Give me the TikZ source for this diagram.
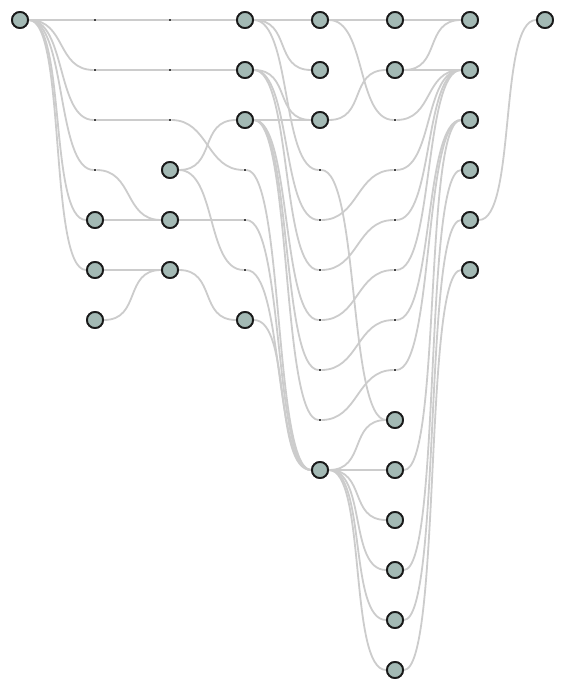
\documentclass[tikz,border=0pt]{standalone}
\definecolor{vfill}{HTML}{A3B9B4}
\definecolor{vline}{HTML}{1A1A1A}
\definecolor{lgray}{HTML}{CCCCCC}
\definecolor{dgray}{HTML}{444444}
\tikzset{
  vtx/.style={circle, draw=vline, line width=1.8pt, fill=vfill, minimum size=16pt, inner sep=0pt},
  dum/.style={rectangle, fill=dgray, minimum size=2.2pt, inner sep=0pt},
  lnk/.style={draw=lgray, line width=1.8pt},
}
\newcommand\lk[2]{\draw[lnk] (#1.east) .. controls +(37.5,0) and +(-37.5,0) .. (#2.west);}
\begin{document}
\begin{tikzpicture}[x=1pt,y=-1pt]
\fill[white] (0,0) rectangle (565,690);
\useasboundingbox (0,0) rectangle (565,690);
% dummy points
\foreach \c/\r in {1/0,1/1,1/2,1/3,2/0,2/1,2/2,3/3,3/4,3/5,4/3,4/4,4/5,4/6,4/7,4/8,5/2,5/3,5/4,5/5,5/6,5/7}
  \node[dum] (d\c-\r) at ({20+75*\c},{20+50*\r}) {};
% real vertices
\foreach \c/\r in {0/0,1/4,1/5,1/6,2/3,2/4,2/5,3/0,3/1,3/2,3/6,4/0,4/1,4/2,4/9,5/0,5/1,5/8,5/9,5/10,5/11,5/12,5/13,6/0,6/1,6/2,6/3,6/4,6/5,7/0}
  \node[vtx] (v\c-\r) at ({20+75*\c},{20+50*\r}) {};
\begin{scope}
% layer 0 -> 1
\lk{v0-0}{d1-0}\lk{v0-0}{d1-1}\lk{v0-0}{d1-2}\lk{v0-0}{d1-3}\lk{v0-0}{v1-4}\lk{v0-0}{v1-5}
% layer 1 -> 2
\lk{d1-0}{d2-0}\lk{d1-1}{d2-1}\lk{d1-2}{d2-2}\lk{d1-3}{v2-4}\lk{v1-4}{v2-4}\lk{v1-5}{v2-5}\lk{v1-6}{v2-5}
% layer 2 -> 3
\lk{d2-0}{v3-0}\lk{d2-1}{v3-1}\lk{d2-2}{d3-3}\lk{v2-3}{v3-2}\lk{v2-3}{d3-5}\lk{v2-4}{d3-4}\lk{v2-5}{v3-6}
% layer 3 -> 4
\lk{v3-0}{v4-0}\lk{v3-0}{v4-1}\lk{v3-0}{d4-3}
\lk{v3-1}{v4-2}\lk{v3-1}{d4-4}\lk{v3-1}{d4-5}
\lk{v3-2}{v4-2}\lk{v3-2}{d4-6}\lk{v3-2}{d4-7}\lk{v3-2}{d4-8}
\lk{d3-3}{v4-9}\lk{d3-4}{v4-9}\lk{d3-5}{v4-9}\lk{v3-6}{v4-9}
% layer 4 -> 5
\lk{v4-0}{v5-0}\lk{v4-0}{d5-2}\lk{v4-2}{v5-1}
\lk{d4-3}{v5-8}\lk{d4-4}{d5-3}\lk{d4-5}{d5-4}\lk{d4-6}{d5-5}\lk{d4-7}{d5-6}\lk{d4-8}{d5-7}
\lk{v4-9}{v5-8}\lk{v4-9}{v5-9}\lk{v4-9}{v5-10}\lk{v4-9}{v5-11}\lk{v4-9}{v5-12}\lk{v4-9}{v5-13}
% layer 5 -> 6
\lk{v5-0}{v6-0}\lk{v5-1}{v6-0}\lk{v5-1}{v6-1}
\lk{d5-2}{v6-1}\lk{d5-3}{v6-1}\lk{d5-4}{v6-1}\lk{d5-5}{v6-1}
\lk{d5-6}{v6-2}\lk{d5-7}{v6-2}\lk{v5-9}{v6-2}
\lk{v5-11}{v6-3}\lk{v5-12}{v6-4}\lk{v5-13}{v6-5}
% layer 6 -> 7
\lk{v6-4}{v7-0}
\end{scope}
% redraw vertices on top
\foreach \c/\r in {0/0,1/4,1/5,1/6,2/3,2/4,2/5,3/0,3/1,3/2,3/6,4/0,4/1,4/2,4/9,5/0,5/1,5/8,5/9,5/10,5/11,5/12,5/13,6/0,6/1,6/2,6/3,6/4,6/5,7/0}
  \node[vtx] at ({20+75*\c},{20+50*\r}) {};
\end{tikzpicture}
\end{document}
